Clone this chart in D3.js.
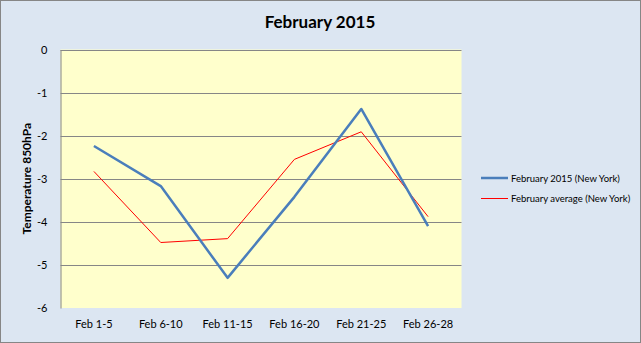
<!DOCTYPE html>
<html><head><meta charset="utf-8">
<script src="https://cdn.jsdelivr.net/npm/d3@7"></script>
<style>html,body{margin:0;padding:0;background:#fff;}svg{display:block;}</style>
</head><body>
<svg id="c" width="641" height="343"></svg>
<script>
const categories = ["Feb 1-5","Feb 6-10","Feb 11-15","Feb 16-20","Feb 21-25","Feb 26-28"];
const feb2015 = [-2.24,-3.17,-5.30,-3.42,-1.38,-4.10];
const febAvg = [-2.83,-4.48,-4.39,-2.55,-1.91,-3.88];
const yTicks = [0,-1,-2,-3,-4,-5,-6];
const seriesNames = ["February 2015 (New York)","February average (New York)"];

const svg = d3.select("#c");
const font = "Lato, 'Open Sans', sans-serif";
svg.append("rect").attr("x",0.5).attr("y",0.5).attr("width",640).attr("height",342)
  .attr("fill","#DCE6F2").attr("stroke","#868686");

const L=60.5,R=461.5,T=49.5,B=308;
const x = d3.scaleBand().domain(categories).range([L,R]);
const y = d3.scaleLinear().domain([-6,0]).range([B,T]);

svg.append("rect").attr("x",L).attr("y",T).attr("width",R-L).attr("height",B-T).attr("fill","#FFFFCC");

// gridlines
svg.append("g").selectAll("line").data(yTicks.filter(d=>d>-6)).join("line")
  .attr("x1",L).attr("x2",R).attr("y1",d=>Math.round(y(d))+0.5).attr("y2",d=>Math.round(y(d))+0.5)
  .attr("stroke","#868686").attr("stroke-width",1);

// y axis
const ya = svg.append("g").attr("transform",`translate(${L},0)`)
  .call(d3.axisLeft(y).tickValues(yTicks).tickSize(0).tickPadding(13).tickFormat(d=>String(d)));
ya.select(".domain").attr("stroke","#868686");
ya.selectAll("text").attr("font-family",font).attr("font-size",11).attr("fill","#000");

// x axis
const xa = svg.append("g").attr("transform",`translate(0,${B})`)
  .call(d3.axisBottom(x).tickSize(0).tickPadding(12));
xa.select(".domain").remove();
xa.selectAll("text").attr("font-family",font).attr("font-size",11).attr("fill","#000");

const line = d3.line().x((d,i)=>x(categories[i])+x.bandwidth()/2).y(d=>y(d));
svg.append("path").datum(febAvg).attr("d",line).attr("fill","none").attr("stroke","#FF0000").attr("stroke-width",1);
svg.append("path").datum(feb2015).attr("d",line).attr("fill","none").attr("stroke","#4A7EBB").attr("stroke-width",2.5).attr("stroke-linejoin","round");

// title
svg.append("text").attr("x",320).attr("y",28).attr("text-anchor","middle")
  .attr("font-family",font).attr("font-weight","bold").attr("font-size",17).text("February 2015");

// y title
svg.append("text").attr("transform",`translate(31,${(T+B)/2}) rotate(-90)`).attr("text-anchor","middle")
  .attr("font-family",font).attr("font-weight","bold").attr("font-size",12).text("Temperature 850hPa");

// legend
const leg = [{n:seriesNames[0],c:"#4A7EBB",w:2.5,y:178},{n:seriesNames[1],c:"#FF0000",w:1,y:198.5}];
const lg = svg.append("g").selectAll("g").data(leg).join("g");
lg.append("line").attr("x1",481).attr("x2",508).attr("y1",d=>d.y).attr("y2",d=>d.y)
  .attr("stroke",d=>d.c).attr("stroke-width",d=>d.w);
lg.append("text").attr("x",511).attr("y",d=>d.y+3.5).attr("font-family",font).attr("font-size",9.5)
  .attr("fill","#000").text(d=>d.n);
</script>
</body></html>
